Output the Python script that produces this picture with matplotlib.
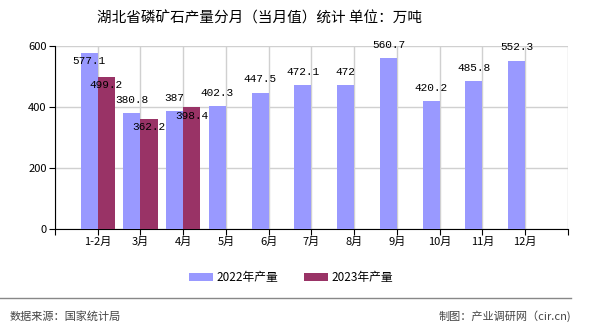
import matplotlib
matplotlib.use("Agg")
import matplotlib.pyplot as plt
import numpy as np

plt.rcParams['font.family'] = ['Noto Sans CJK SC', 'DejaVu Sans']

# 数据
months = ['1-2月', '3月', '4月', '5月', '6月', '7月', '8月', '9月', '10月', '11月', '12月']
prod_2022 = [577.1, 380.8, 387, 402.3, 447.5, 472.1, 472, 560.7, 420.2, 485.8, 552.3]
prod_2023 = [499.2, 362.2, 398.4]

c2022 = '#9999ff'
c2023 = '#993366'

fig = plt.figure(figsize=(5.9, 3.3), dpi=100)
ax = fig.add_axes([0.0932, 0.306, 0.8695, 0.5546])

x = np.arange(len(months))
w = 0.4
ax.bar(x - w / 2, prod_2022, w, color=c2022, label='2022年产量', zorder=3)
x23 = np.arange(len(prod_2023))
ax.bar(x23 + w / 2, prod_2023, w, color=c2023, label='2023年产量', zorder=3)

ax.set_xlim(-1, len(months))
ax.set_ylim(0, 600)
ax.set_xticks(np.arange(-1, len(months) + 1))
ax.set_xticklabels([''] + months + [''], fontsize=8)
ax.set_yticks([0, 200, 400, 600])
ax.tick_params(axis='y', labelsize=8, length=4, color='black', pad=2)
ax.tick_params(axis='x', length=4, color='black', pad=2)
ax.grid(True, color='#d0d0d0', linewidth=1, zorder=0)
for s in ['top', 'right']:
    ax.spines[s].set_visible(False)
ax.spines['left'].set_color('black')
ax.spines['bottom'].set_color('black')

# 数值标签
lab_font = dict(family=['Liberation Mono', 'DejaVu Sans Mono'], fontsize=8)
for i, v in enumerate(prod_2022):
    off = 9.4 if v < 565 else -6
    ax.annotate(f'{v:g}', (x[i] - w / 2, v), xytext=(0, off), textcoords='offset points',
                ha='center', va='center', zorder=5, **lab_font)
for i, v in enumerate(prod_2023):
    ax.annotate(f'{v:g}', (x23[i] + w / 2, v), xytext=(0, -6), textcoords='offset points',
                ha='center', va='center', zorder=5, **lab_font)

fig.text(0.44, 0.945, '湖北省磷矿石产量分月（当月值）统计 单位：万吨', ha='center', va='center',
         fontsize=10.5)

fig.legend(loc='center', bbox_to_anchor=(0.493, 0.158), ncol=2, frameon=False, fontsize=8.5,
           handlelength=2.0, handleheight=0.7, columnspacing=2.2, handletextpad=0.3)

fig.add_artist(plt.Line2D([0, 0.968], [0.097, 0.097], color='#888888', linewidth=1))
fig.text(0.017, 0.042, '数据来源：国家统计局', ha='left', va='center', fontsize=8, color='#444444')
fig.text(0.968, 0.042, '制图：产业调研网（cir.cn)', ha='right', va='center', fontsize=8, color='#444444')

fig.savefig('out.png', dpi=100)
